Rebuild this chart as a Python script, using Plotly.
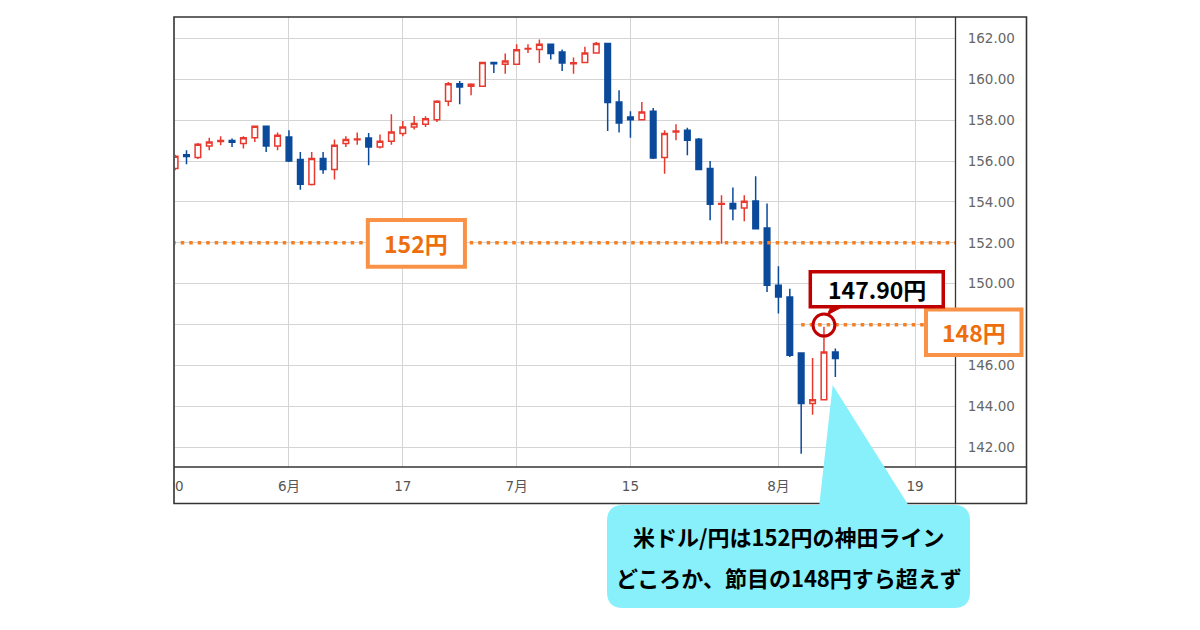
import pandas as pd
import plotly.graph_objects as go

# ---------------- data (USD/JPY daily) ----------------
opens = [155.63, 156.30, 156.17, 156.73, 156.95, 157.00, 156.85, 157.14, 157.70, 156.73,
         157.17, 156.07, 154.85, 156.12, 155.59, 156.85, 157.04, 157.12, 156.68, 156.96,
         157.34, 157.66, 157.80, 158.02, 158.92, 159.78, 159.65, 159.65, 160.81, 160.73,
         160.73, 161.47, 161.45, 161.71, 161.33, 160.76, 160.81, 161.28, 161.74, 158.89,
         158.15, 158.02, 158.43, 156.17, 157.42, 157.50, 157.06, 155.63, 153.88, 153.92,
         153.70, 154.05, 152.72, 149.92, 149.35, 146.61, 144.14, 144.33, 146.66]
highs = [156.30, 156.52, 156.88, 157.14, 157.21, 157.10, 157.21, 157.72, 157.72, 157.39,
         157.50, 156.44, 156.44, 156.44, 157.05, 157.21, 157.39, 157.37, 157.29, 158.28,
         157.96, 158.20, 158.19, 158.97, 159.86, 159.91, 159.80, 160.84, 160.84, 161.25,
         161.71, 161.71, 161.94, 161.75, 161.45, 161.06, 161.58, 161.82, 161.76, 159.46,
         158.43, 158.89, 158.59, 157.50, 157.80, 157.63, 157.12, 156.00, 154.32, 154.70,
         154.32, 155.25, 153.92, 150.85, 149.76, 146.65, 146.37, 147.90, 146.83]
lows = [155.55, 155.84, 156.10, 156.52, 156.77, 156.68, 156.61, 156.93, 156.44, 156.52,
        155.95, 154.60, 154.80, 155.38, 155.10, 156.68, 156.80, 155.79, 156.61, 156.80,
        157.21, 157.54, 157.66, 157.91, 158.69, 158.77, 159.21, 159.62, 160.30, 160.27,
        160.70, 161.28, 160.79, 160.96, 160.40, 160.27, 160.78, 161.25, 157.47, 157.39,
        157.14, 157.98, 156.10, 155.38, 157.01, 156.28, 155.57, 153.10, 151.96, 153.10,
        153.05, 152.65, 149.59, 148.54, 146.42, 141.69, 143.60, 144.30, 145.44]
closes = [156.23, 156.22, 156.82, 156.93, 157.00, 156.92, 157.14, 157.70, 156.73, 157.26,
          156.00, 154.86, 156.12, 155.59, 156.77, 157.05, 157.08, 156.68, 156.96, 157.42,
          157.66, 157.83, 158.07, 158.92, 159.78, 159.62, 159.75, 160.81, 160.76, 160.89,
          161.44, 161.50, 161.71, 161.25, 160.79, 160.80, 161.28, 161.74, 158.86, 157.86,
          158.02, 158.40, 156.15, 157.34, 157.47, 157.01, 155.59, 153.88, 153.92, 153.67,
          154.03, 152.69, 149.92, 149.35, 146.50, 144.14, 144.33, 146.66, 146.34]

first_day = "2024-05-20"
tick_dates = ["2024-05-20", "2024-06-03", "2024-06-17", "2024-07-01",
              "2024-07-15", "2024-08-01", "2024-08-19"]
tick_labels = ["20", "6月", "17", "7月", "15", "8月", "19"]
y_ticks = [142, 144, 146, 148, 150, 152, 154, 156, 158, 160, 162]
kanda_line = 152
key_level = 148
peak_value = 147.90
label_152 = "152円"
label_148 = "148円"
label_peak = "147.90円"
note_lines = ["米ドル/円は152円の神田ライン", "どころか、節目の148円すら超えず"]

# ---------------- trading-day axis (weekdays only) ----------------
calendar = pd.bdate_range(first_day, "2024-09-30")
day_index = {d.strftime("%Y-%m-%d"): i for i, d in enumerate(calendar)}
x = list(range(len(opens)))
tick_vals = [day_index[d] for d in tick_dates]
peak_idx = highs.index(peak_value)
# the 148.00 label sits behind the "148円" box in the original
y_ticktext = ["" if v == key_level else f"{v:.2f}" for v in y_ticks]

W, H = 1200, 630
ML, MR, MT, MB = 175, 244, 17, 163
PW, PH = W - ML - MR, H - MT - MB


def xp(px):
    return (px - ML) / PW


def yp(py):
    return (H - MB - py) / PH


ORANGE_LINE = "#F57F22"
ORANGE_BOX = "#F99247"
ORANGE_TEXT = "#EE6E0E"
DARK_RED = "#C00000"
CYAN = "#88F0FA"
RED = "#E8392F"
BLUE = "#0B4A9B"
JP = "Noto Sans CJK JP"

fig = go.Figure()
fig.add_trace(go.Candlestick(
    x=x, open=opens, high=highs, low=lows, close=closes,
    increasing=dict(line=dict(color=RED, width=1.5), fillcolor="white"),
    decreasing=dict(line=dict(color=BLUE, width=1.5), fillcolor=BLUE),
    whiskerwidth=0, hoverinfo="skip", showlegend=False,
))
# dotted reference levels
fig.add_trace(go.Scatter(
    x=[-1, 70], y=[kanda_line, kanda_line], mode="lines",
    line=dict(color=ORANGE_LINE, width=3.5, dash="3.5px,5px"),
    hoverinfo="skip", showlegend=False,
))
fig.add_trace(go.Scatter(
    x=[55.0, 70], y=[key_level, key_level], mode="lines",
    line=dict(color=ORANGE_LINE, width=3.5, dash="3.5px,5px"),
    hoverinfo="skip", showlegend=False,
))

shapes = []
# cover for the clipped first tick label
shapes.append(dict(type="rect", xref="paper", yref="paper", layer="above",
                   x0=xp(140), x1=xp(173.5), y0=yp(470), y1=yp(501),
                   fillcolor="white", line=dict(width=0)))
# frame
frame_col = "#333333"
shapes.append(dict(type="rect", xref="paper", yref="paper", layer="above",
                   x0=xp(174), x1=xp(1026.5), y0=yp(17), y1=yp(503.5),
                   line=dict(color=frame_col, width=1.6)))
shapes.append(dict(type="line", xref="paper", yref="paper", layer="above",
                   x0=xp(955.5), x1=xp(955.5), y0=yp(17), y1=yp(503.5),
                   line=dict(color=frame_col, width=1.3)))
shapes.append(dict(type="line", xref="paper", yref="paper", layer="above",
                   x0=xp(174), x1=xp(1026.5), y0=yp(467), y1=yp(467),
                   line=dict(color=frame_col, width=1.3)))
# 152 box
shapes.append(dict(type="rect", xref="x", yref="y", layer="above",
                   x0=16.93, x1=25.46, y0=150.83, y1=153.12,
                   fillcolor="white", line=dict(color=ORANGE_BOX, width=4)))
# 148 box (crosses the axis area)
shapes.append(dict(type="rect", xref="paper", yref="paper", layer="above",
                   x0=xp(926), x1=xp(1021.5), y0=yp(355), y1=yp(309.5),
                   fillcolor="white", line=dict(color=ORANGE_BOX, width=4)))
# peak circle
shapes.append(dict(type="circle", xref="x", yref="y", layer="above",
                   x0=peak_idx - 0.96, x1=peak_idx + 0.96,
                   y0=peak_value + 0.08 - 0.54, y1=peak_value + 0.08 + 0.54,
                   line=dict(color=DARK_RED, width=3)))
# peak callout box
shapes.append(dict(type="rect", xref="x", yref="y", layer="above",
                   x0=55.8, x1=67.48, y0=148.88, y1=150.59,
                   fillcolor="white", line=dict(color=DARK_RED, width=3.5)))
# pointer from callout to circle
shapes.append(dict(type="path", xref="paper", yref="paper", layer="above",
                   path=f"M {xp(831)},{yp(307)} L {xp(842)},{yp(307)} L {xp(827)},{yp(315)} Z",
                   fillcolor=DARK_RED, line=dict(color=DARK_RED, width=1)))

# cyan speech bubble (rounded rect + pointer)
bx0, bx1, by0, by1, r = 607, 970, 505, 608, 16
pts = [
    ("M", bx0 + r, by0),
    ("L", 819.3, by0), ("L", 832.7, 385), ("L", 908.3, by0),
    ("L", bx1 - r, by0), ("Q", bx1, by0, bx1, by0 + r),
    ("L", bx1, by1 - r), ("Q", bx1, by1, bx1 - r, by1),
    ("L", bx0 + r, by1), ("Q", bx0, by1, bx0, by1 - r),
    ("L", bx0, by0 + r), ("Q", bx0, by0, bx0 + r, by0),
]
segs = []
for p in pts:
    cmd = p[0]
    coords = p[1:]
    cs = " ".join(f"{xp(coords[i])},{yp(coords[i + 1])}" for i in range(0, len(coords), 2))
    segs.append(f"{cmd} {cs}")
bubble_path = " ".join(segs) + " Z"
shapes.append(dict(type="path", xref="paper", yref="paper", layer="above",
                   path=bubble_path, fillcolor=CYAN, line=dict(width=0)))

common = dict(showarrow=False, xanchor="center", yanchor="middle")
annotations = [
    dict(xref="x", yref="y", x=21.2, y=151.97, text=f"<b>{label_152}</b>",
         font=dict(family=JP, size=23, color=ORANGE_TEXT), **common),
    dict(xref="paper", yref="paper", x=xp(974), y=yp(332), text=f"<b>{label_148}</b>",
         font=dict(family=JP, size=23, color=ORANGE_TEXT), **common),
    dict(xref="x", yref="y", x=61.64, y=149.73, text=f"<b>{label_peak}</b>",
         font=dict(family=JP, size=23, color="black"), **common),
    dict(xref="paper", yref="paper", x=xp(788), y=yp(536), text=f"<b>{note_lines[0]}</b>",
         font=dict(family=JP, size=22, color="black"), **common),
    dict(xref="paper", yref="paper", x=xp(789), y=yp(577), text=f"<b>{note_lines[1]}</b>",
         font=dict(family=JP, size=22, color="black"), **common),
]

fig.update_layout(
    width=W, height=H,
    margin=dict(l=ML, r=MR, t=MT, b=MB, pad=0),
    paper_bgcolor="white", plot_bgcolor="white",
    showlegend=False, hovermode=False,
    shapes=shapes, annotations=annotations,
    xaxis=dict(
        range=[-0.01, 68.6], rangeslider=dict(visible=False),
        tickmode="array", tickvals=tick_vals, ticktext=tick_labels,
        showgrid=True, gridcolor="#D4D4D4", gridwidth=1,
        zeroline=False, showline=False,
        ticks="outside", ticklen=7, tickcolor="rgba(0,0,0,0)",
        tickfont=dict(family="DejaVu Sans, " + JP, size=13.5, color="#555555"),
    ),
    yaxis=dict(
        side="right", range=[141.04, 163.04],
        tickmode="array", tickvals=y_ticks, ticktext=y_ticktext,
        showgrid=True, gridcolor="#D4D4D4", gridwidth=1,
        zeroline=False, showline=False,
        ticks="outside", ticklen=8, tickcolor="rgba(0,0,0,0)",
        tickfont=dict(family="DejaVu Sans", size=13.5, color="#666666"),
    ),
)

fig.write_html("out.html", config={"displayModeBar": False},
               post_script="document.body.style.margin='0';")
